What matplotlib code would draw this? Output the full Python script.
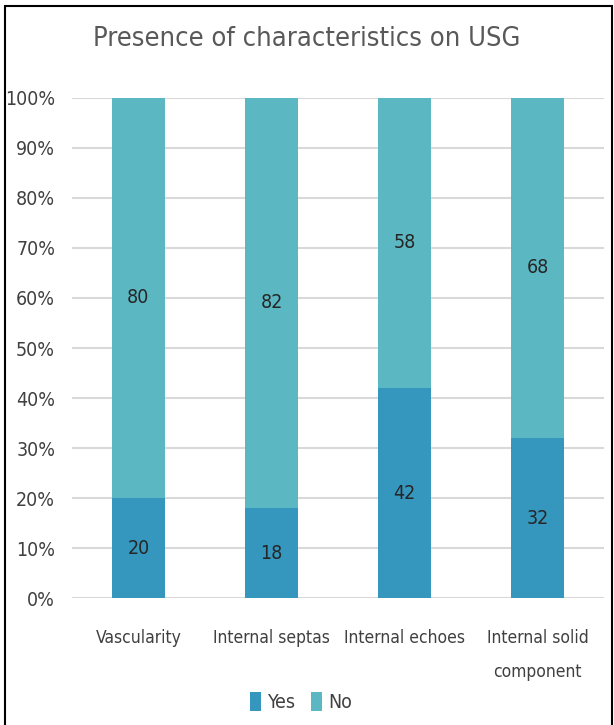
import matplotlib
matplotlib.use("Agg")
import matplotlib.pyplot as plt
from matplotlib import font_manager
from matplotlib.patches import Rectangle

categories = ["Vascularity", "Internal septas", "Internal echoes", "Internal solid\ncomponent"]
yes_values = [20, 18, 42, 32]
no_values = [80, 82, 58, 68]
series_names = ["Yes", "No"]
tick_labels = [f"{v}%" for v in range(0, 101, 10)]

# prefer a narrow face when one is installed
fonts = font_manager.fontManager.ttflist
narrow = [f for f in fonts if f.name == "Liberation Sans Narrow"]
condensed = [f for f in fonts if f.name == "DejaVu Sans" and "condensed" in str(f.stretch)]
if narrow:
    plt.rcParams["font.family"] = ["Liberation Sans Narrow", "DejaVu Sans"]
else:
    plt.rcParams["font.family"] = ["DejaVu Sans"]
    if condensed:
        plt.rcParams["font.stretch"] = "condensed"

yes_color = "#3596BE"
no_color = "#5BB8C3"
text_color = "#404040"

fig = plt.figure(figsize=(6.14, 7.25), dpi=100)
ax = fig.add_axes([0.117, 0.175, 0.867, 0.69])

x = range(len(categories))
ax.bar(x, yes_values, width=0.4, color=yes_color, label=series_names[0], zorder=3)
ax.bar(x, no_values, width=0.4, bottom=yes_values, color=no_color, label=series_names[1], zorder=3)

for i, (y, n) in enumerate(zip(yes_values, no_values)):
    ax.text(i, y / 2, str(y), ha="center", va="center", fontsize=14, color="#262626", zorder=4)
    ax.text(i, y + n / 2, str(n), ha="center", va="center", fontsize=14, color="#262626", zorder=4)

ax.set_xlim(-0.5, len(categories) - 0.5)
ax.set_ylim(0, 100)
ax.set_yticks(range(0, 101, 10))
ax.set_yticklabels(tick_labels, fontsize=14, color=text_color)
ax.set_xticks(list(x))
ax.set_xticklabels(categories, fontsize=12.5, color=text_color, linespacing=2.15)
ax.tick_params(axis="y", length=0, pad=12)
ax.tick_params(axis="x", length=0, pad=22)
ax.yaxis.grid(True, color="#d9d9d9", linewidth=1.5, zorder=0)
for s in ax.spines.values():
    s.set_visible(False)

fig.text(0.5, 0.946, "Presence of characteristics on USG", ha="center", va="center",
         fontsize=19.5, color="#595959")

handles, labels = ax.get_legend_handles_labels()
fig.legend(handles, labels, loc="center", bbox_to_anchor=(0.49, 0.032), ncol=2, frameon=False,
           fontsize=14, handlelength=0.6, handleheight=1.2, handletextpad=0.3, columnspacing=0.8,
           labelcolor=text_color)

fig.patches.append(Rectangle((5 / 614, -0.01), (612 - 5) / 614, 1 - 6 / 725 + 0.01,
                             transform=fig.transFigure, fill=False, edgecolor="black",
                             linewidth=1.5, figure=fig))

fig.savefig("out.png", dpi=100)
